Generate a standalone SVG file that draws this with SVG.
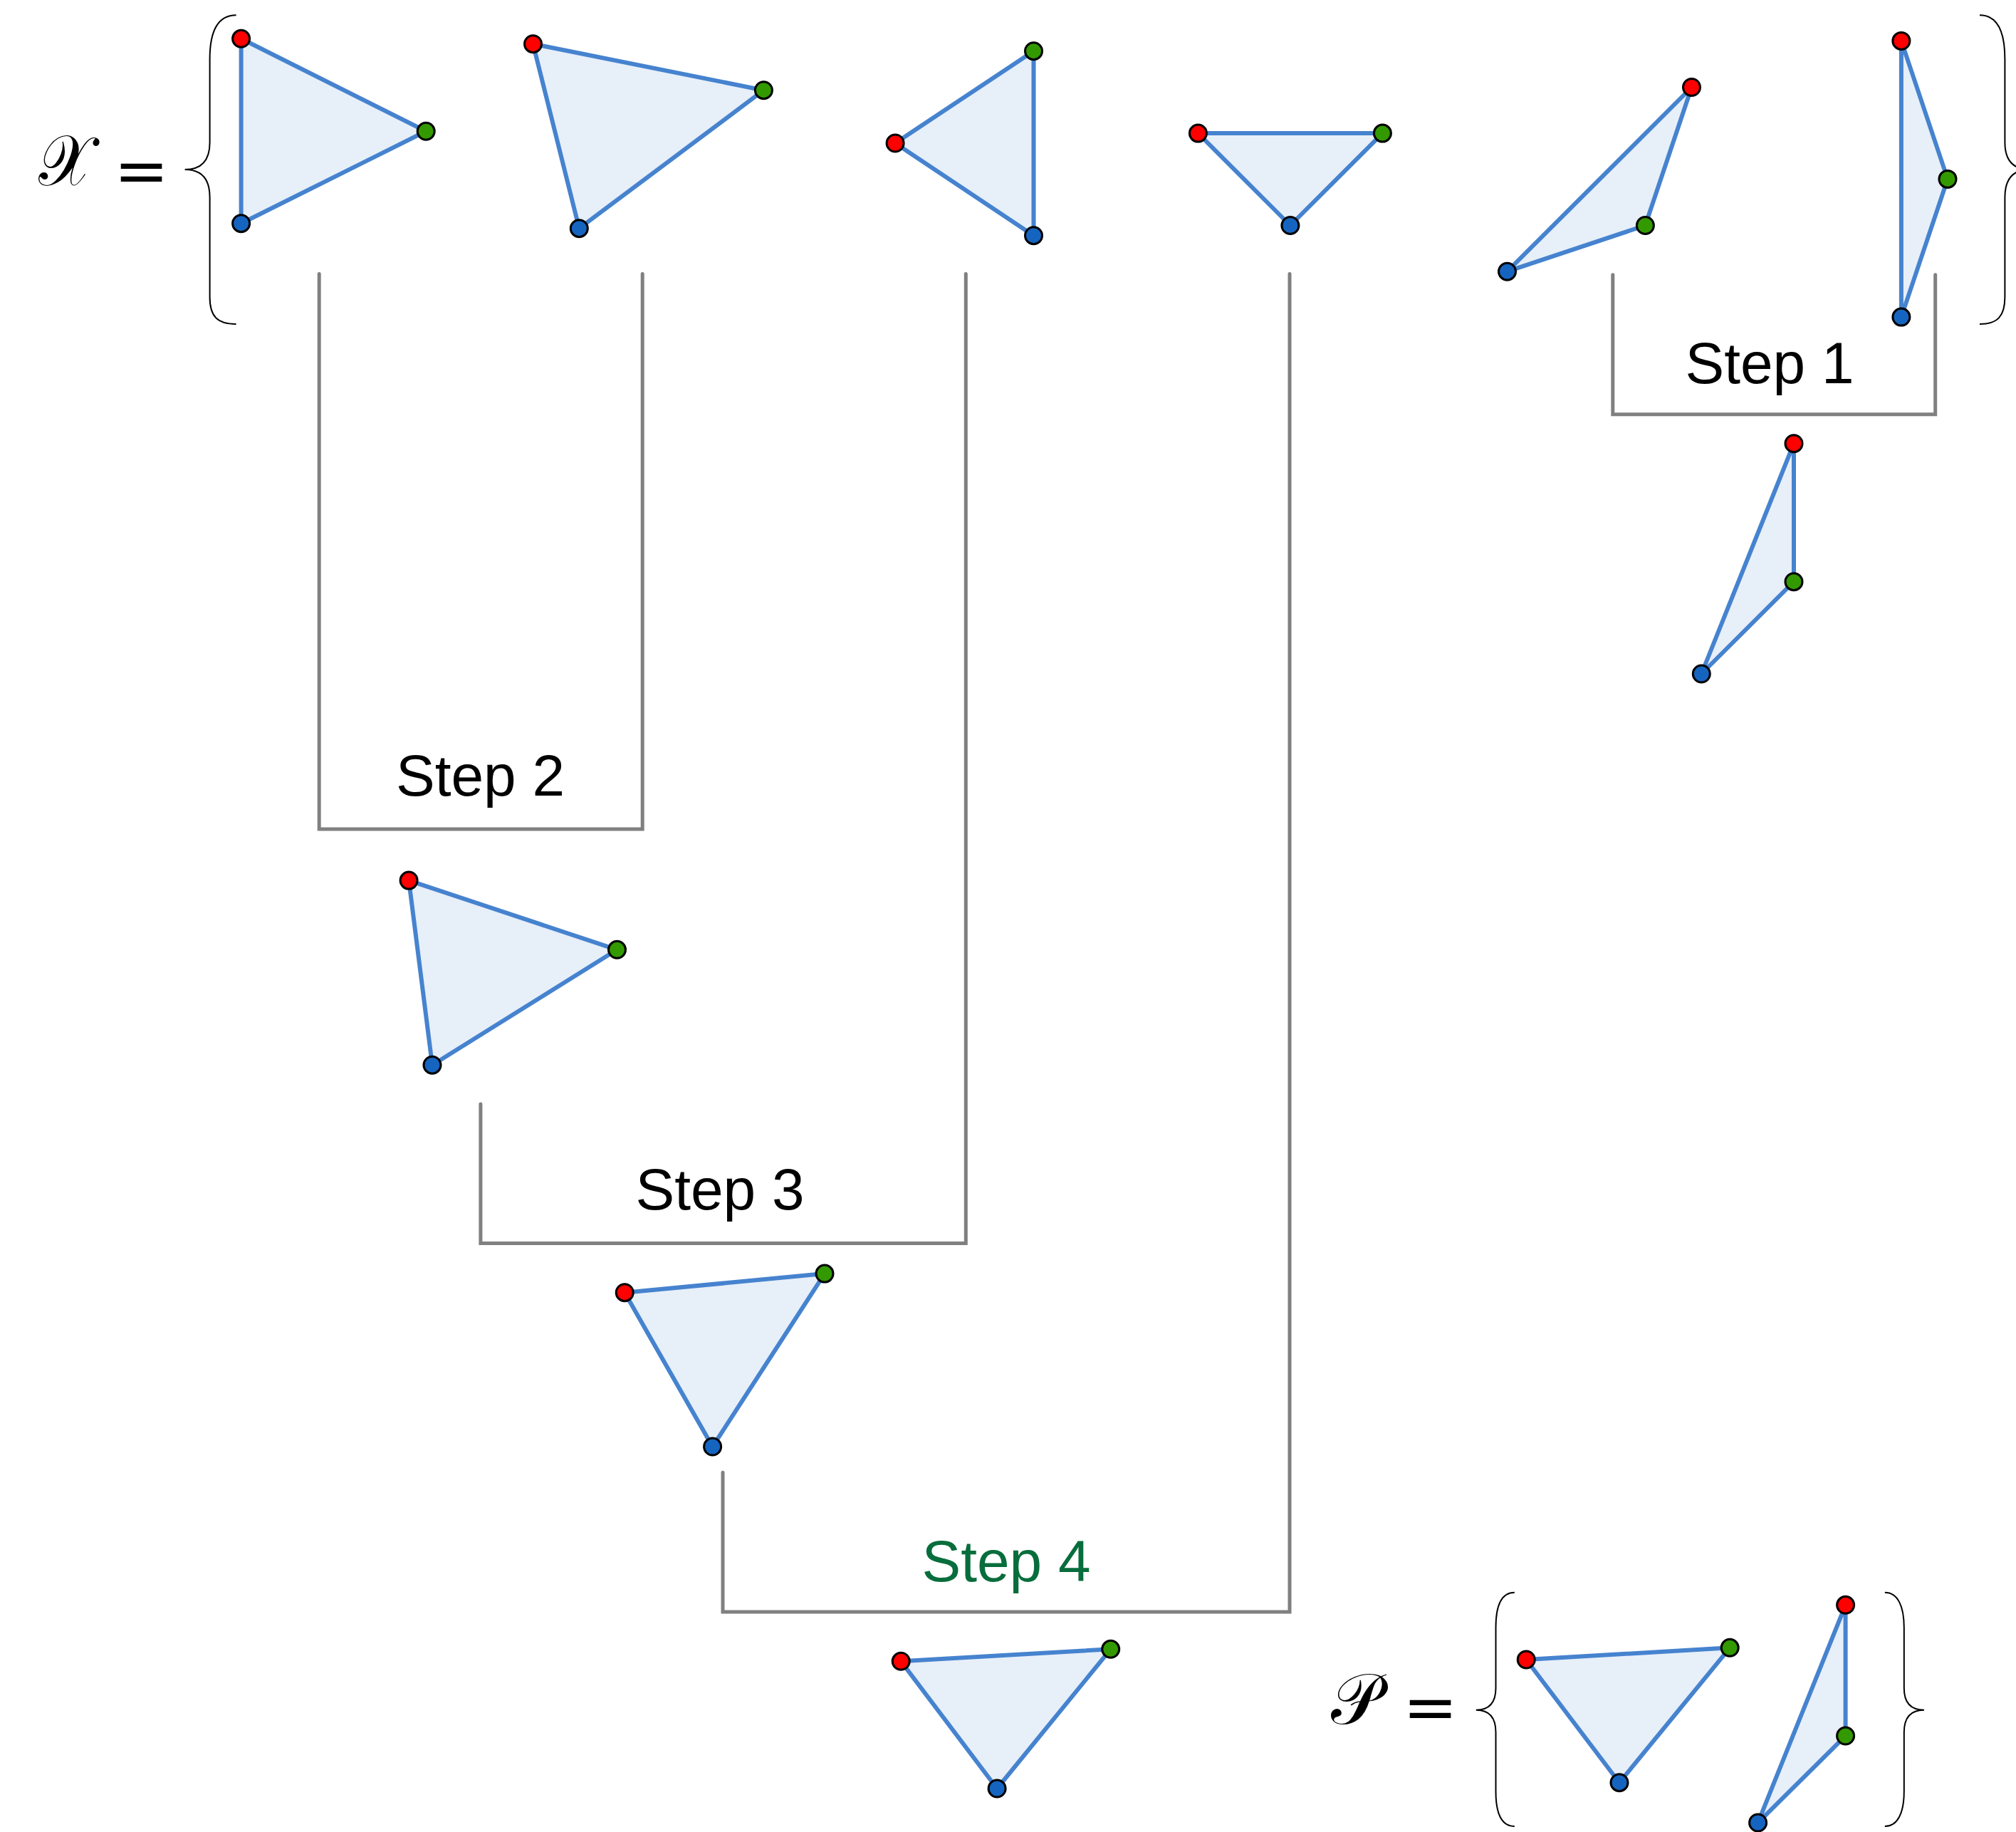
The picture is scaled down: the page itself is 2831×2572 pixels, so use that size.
<svg xmlns="http://www.w3.org/2000/svg" width="2831" height="2572" viewBox="0 0 2831 2572">
<style>
.tri{fill:#e7eff9;stroke:#4683cf;stroke-width:6;stroke-linejoin:round}
.r{fill:#ff0000;stroke:#000;stroke-width:3}
.g{fill:#339900;stroke:#000;stroke-width:3}
.b{fill:#1565c0;stroke:#000;stroke-width:3}
.br{fill:none;stroke:#808080;stroke-width:5;stroke-linecap:round;stroke-linejoin:miter}
.brace{fill:none;stroke:#000;stroke-width:2}
.step{font-family:"Liberation Sans",Arial,sans-serif;font-size:82px;text-anchor:middle;fill:#000}
.math{font-family:"DejaVu Serif","Liberation Serif",serif;fill:#000}
</style>
<rect width="2831" height="2572" fill="#fff"/>

<g id="connectors">
<path class="br" d="M2264.8,385.8 V581.7 H2717.7 V385.8"/>
<path class="br" d="M448.2,384.6 V1164 H902.2 V384.6"/>
<path class="br" d="M674.9,1550 V1745.5 H1356.3 V384.6"/>
<path class="br" d="M1015,2067.3 V2263 H1811 V384.6"/>
</g>

<g id="labels">
<text class="step" x="2485" y="538">Step 1</text>
<text class="step" x="674.5" y="1117">Step 2</text>
<text class="step" x="1011" y="1698">Step 3</text>
<text class="step" x="1413" y="2220" style="fill:#086d3c">Step 4</text>
</g>

<g id="set-X">
<text class="math" x="54" y="260" font-size="100" textLength="76" lengthAdjust="spacingAndGlyphs">𝒳</text>
<text class="math" x="160" y="271" font-size="92">=</text>
<path class="brace" d="M331.6,21.3 C305,21.3 294.6,45 294.6,83 L294.6,200 C294.6,226 282,238 259.6,238 C282,238 294.6,250 294.6,277 L294.6,417 C294.6,444 305,455 331.6,455"/>
<path class="brace" d="M2780,21.3 C2805,21.3 2815.4,45 2815.4,83 L2815.4,200 C2815.4,226 2828,238 2850.4,238 C2828,238 2815.4,250 2815.4,277 L2815.4,417 C2815.4,444 2805,455 2780,455"/>
</g>

<g id="x1">
<polygon class="tri" points="338.6,54.3 598.2,184.3 338.6,313.7"/>
<circle class="r" cx="338.6" cy="54.3" r="12"/><circle class="g" cx="598.2" cy="184.3" r="12"/><circle class="b" cx="338.6" cy="313.7" r="12"/>
</g>
<g id="x2">
<polygon class="tri" points="748.5,61.7 1072.4,126.7 813.3,320.7"/>
<circle class="r" cx="748.5" cy="61.7" r="12"/><circle class="g" cx="1072.4" cy="126.7" r="12"/><circle class="b" cx="813.3" cy="320.7" r="12"/>
</g>
<g id="x3">
<polygon class="tri" points="1257.1,201 1451.5,71.7 1451.5,330.7"/>
<circle class="r" cx="1257.1" cy="201" r="12"/><circle class="g" cx="1451.5" cy="71.7" r="12"/><circle class="b" cx="1451.5" cy="330.7" r="12"/>
</g>
<g id="x4">
<polygon class="tri" points="1682.4,187.1 1941.4,187.1 1811.9,316.5"/>
<circle class="r" cx="1682.4" cy="187.1" r="12"/><circle class="g" cx="1941.4" cy="187.1" r="12"/><circle class="b" cx="1811.9" cy="316.5" r="12"/>
</g>
<g id="x5">
<polygon class="tri" points="2375.5,122.5 2310.4,316.5 2116.5,381.2"/>
<circle class="r" cx="2375.5" cy="122.5" r="12"/><circle class="g" cx="2310.4" cy="316.5" r="12"/><circle class="b" cx="2116.5" cy="381.2" r="12"/>
</g>
<g id="x6">
<polygon class="tri" points="2669.9,57.4 2735,251.4 2669.9,445.1"/>
<circle class="r" cx="2669.9" cy="57.4" r="12"/><circle class="g" cx="2735" cy="251.4" r="12"/><circle class="b" cx="2669.9" cy="445.1" r="12"/>
</g>

<g id="step1-result">
<polygon class="tri" points="2519,622.7 2519,816.7 2389.3,946"/>
<circle class="r" cx="2519" cy="622.7" r="12"/><circle class="g" cx="2519" cy="816.7" r="12"/><circle class="b" cx="2389.3" cy="946" r="12"/>
</g>
<g id="step2-result">
<polygon class="tri" points="574.1,1236.1 866.5,1333.3 607,1495.2"/>
<circle class="r" cx="574.1" cy="1236.1" r="12"/><circle class="g" cx="866.5" cy="1333.3" r="12"/><circle class="b" cx="607" cy="1495.2" r="12"/>
</g>
<g id="step3-result">
<polygon class="tri" points="877.2,1814.7 1158,1788.1 1000.6,2031"/>
<circle class="r" cx="877.2" cy="1814.7" r="12"/><circle class="g" cx="1158" cy="1788.1" r="12"/><circle class="b" cx="1000.6" cy="2031" r="12"/>
</g>
<g id="step4-result">
<polygon class="tri" points="1265.2,2332.3 1559.7,2315.3 1400.1,2511"/>
<circle class="r" cx="1265.2" cy="2332.3" r="12"/><circle class="g" cx="1559.7" cy="2315.3" r="12"/><circle class="b" cx="1400.1" cy="2511" r="12"/>
</g>

<g id="set-P">
<text class="math" x="1869" y="2420" font-size="100" textLength="70" lengthAdjust="spacingAndGlyphs">𝒫</text>
<text class="math" x="1970" y="2428" font-size="92">=</text>
<path class="brace" d="M2126.8,2235.7 C2108,2235.7 2100.5,2255 2100.5,2285 L2100.5,2370 C2100.5,2392 2090,2400.7 2072.8,2400.7 C2090,2400.7 2100.5,2410 2100.5,2432 L2100.5,2515 C2100.5,2545 2108,2564 2126.8,2564"/>
<path class="brace" d="M2646.8,2235.7 C2665,2235.7 2673.8,2255 2673.8,2285 L2673.8,2370 C2673.8,2392 2684,2400.7 2702,2400.7 C2684,2400.7 2673.8,2410 2673.8,2432 L2673.8,2515 C2673.8,2545 2665,2564 2646.8,2564"/>
</g>
<g id="p1">
<polygon class="tri" points="2143.2,2330 2429.2,2313.3 2274,2502.7"/>
<circle class="r" cx="2143.2" cy="2330" r="12"/><circle class="g" cx="2429.2" cy="2313.3" r="12"/><circle class="b" cx="2274" cy="2502.7" r="12"/>
</g>
<g id="p2">
<polygon class="tri" points="2591.6,2253.3 2591.6,2437 2468.6,2559"/>
<circle class="r" cx="2591.6" cy="2253.3" r="12"/><circle class="g" cx="2591.6" cy="2437" r="12"/><circle class="b" cx="2468.6" cy="2559" r="12"/>
</g>
</svg>
